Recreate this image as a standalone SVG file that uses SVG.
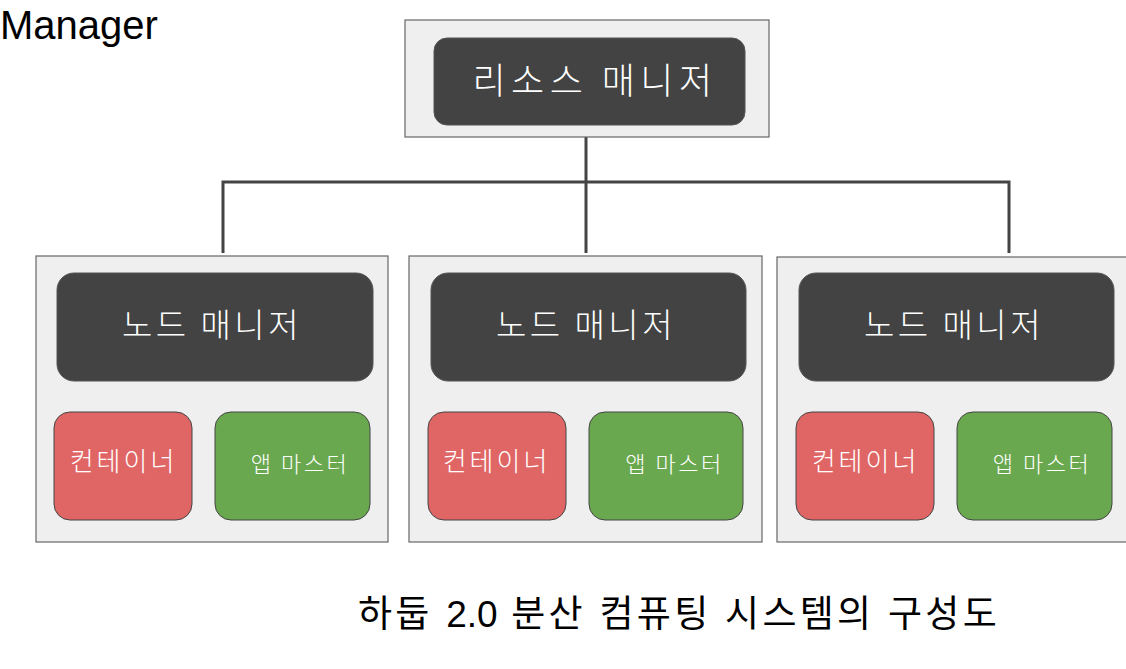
<svg xmlns="http://www.w3.org/2000/svg" width="1126" height="669" viewBox="0 0 1126 669">
<style>
.outer{fill:#efefef;stroke:#666;stroke-width:1.2}
.dark{fill:#434343;stroke:#555;stroke-width:1}
.red{fill:#e06666;stroke:#444;stroke-width:1}
.green{fill:#6aa84f;stroke:#444;stroke-width:1}
.wt{fill:#ffffff;font-family:"Noto Sans CJK KR","Noto Sans",sans-serif;font-weight:300;text-anchor:middle}
.big{font-size:36px;letter-spacing:5.5px}
.nm{font-size:33px;letter-spacing:3.5px}
.ct{font-size:26px;letter-spacing:3px}
.am{font-size:22px;letter-spacing:2.5px}
.conn{fill:none;stroke:#444;stroke-width:3}
.blk{fill:#000;font-family:"Liberation Sans","Noto Sans CJK KR",sans-serif}
</style>
<rect width="1126" height="669" fill="#fff"/>
<text class="blk" x="0" y="39" font-size="40">Manager</text>
<g id="connectors">
<path class="conn" d="M586 137 V253"/>
<path class="conn" d="M223 253 V182 H1009 V253"/>
</g>
<g id="resource-manager">
<rect class="outer" x="405" y="20" width="364" height="117"/>
<rect class="dark" x="434" y="38" width="311" height="87" rx="13"/>
<text class="wt big" x="595" y="94">리소스 매니저</text>
</g>
<g id="node1">
<rect class="outer" x="36" y="256" width="352" height="286"/>
<g id="node1-nm"><rect class="dark" x="57" y="273" width="316" height="108" rx="17"/>
<text class="wt nm" x="212" y="337">노드 매니저</text></g>
<g id="node1-ct"><rect class="red" x="54" y="412" width="138" height="108" rx="16"/>
<text class="wt ct" x="123.5" y="471">컨테이너</text></g>
<g id="node1-am"><rect class="green" x="215" y="412" width="155" height="108" rx="16"/>
<text class="wt am" x="300" y="472">앱 마스터</text></g>
</g>
<g id="node2">
<rect class="outer" x="409" y="256" width="353" height="286"/>
<g id="node2-nm"><rect class="dark" x="431" y="273" width="315" height="108" rx="17"/>
<text class="wt nm" x="586" y="337">노드 매니저</text></g>
<g id="node2-ct"><rect class="red" x="428" y="412" width="138" height="108" rx="16"/>
<text class="wt ct" x="496.5" y="471">컨테이너</text></g>
<g id="node2-am"><rect class="green" x="589" y="412" width="154" height="108" rx="16"/>
<text class="wt am" x="674.5" y="472">앱 마스터</text></g>
</g>
<g id="node3">
<rect class="outer" x="777" y="257" width="360" height="285"/>
<g id="node3-nm"><rect class="dark" x="799" y="273" width="315" height="108" rx="17"/>
<text class="wt nm" x="954" y="337">노드 매니저</text></g>
<g id="node3-ct"><rect class="red" x="796" y="412" width="138" height="108" rx="16"/>
<text class="wt ct" x="865.5" y="471">컨테이너</text></g>
<g id="node3-am"><rect class="green" x="957" y="412" width="155" height="108" rx="16"/>
<text class="wt am" x="1042" y="472">앱 마스터</text></g>
</g>
<text class="blk" x="679" y="627" font-size="37" letter-spacing="3.3" text-anchor="middle">하둡 <tspan letter-spacing="0">2.0</tspan> 분산 컴퓨팅 시스템의 구성도</text>
</svg>
